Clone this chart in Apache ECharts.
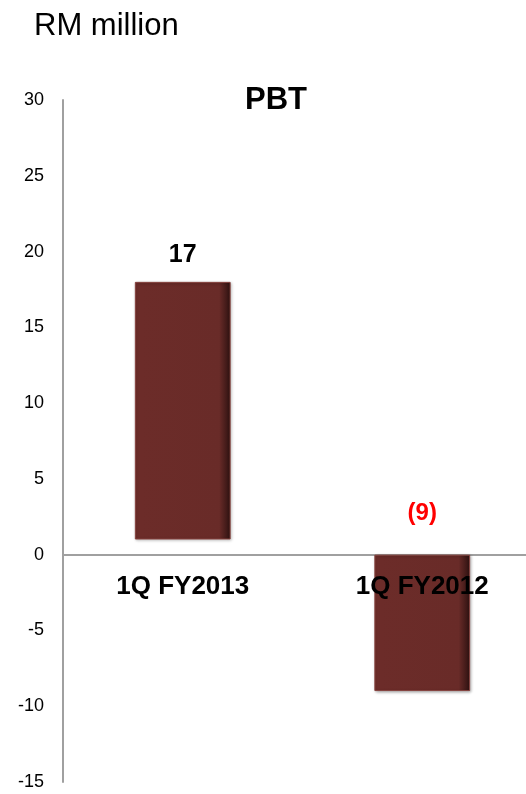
<!DOCTYPE html>
<html>
<head>
<meta charset="utf-8">
<script src="https://cdn.jsdelivr.net/npm/echarts@6/dist/echarts.min.js"></script>
<style>
  html, body { margin: 0; padding: 0; background: #fff; }
  #chart { width: 526px; height: 794px; }
</style>
</head>
<body>
<div id="chart"></div>
<script>
  // data
  var categories = ['1Q FY2013', '1Q FY2012']
  var baseValues = [1, 0]       // bar 1 floats a little above zero
  var pbtValues = [17, -9]
  var pbtLabels = ['17', '(9)']
  var labelColors = ['#000', '#ff0000']

  var myChart = echarts.init(document.getElementById('chart'))

  var barColor = new echarts.graphic.LinearGradient(0, 0, 1, 0, [
    {offset: 0, color: '#74302c'},
    {offset: 0.06, color: '#6c2c29'},
    {offset: 0.88, color: '#692b28'},
    {offset: 1, color: '#2c1110'}
  ])

  var option = {
    animation: false,
    textStyle: { fontFamily: 'Liberation Sans, Arial, sans-serif' },
    title: [
      {
        text: 'RM million',
        left: 29, top: 6,
        textStyle: { fontSize: 31, fontWeight: 'normal', color: '#000' }
      },
      {
        text: 'PBT',
        left: 271, top: 80, textAlign: 'center',
        textStyle: { fontSize: 31, fontWeight: 'bold', color: '#000' }
      }
    ],
    grid: { left: 63, right: -16, top: 100, bottom: 12, outerBoundsMode: 'none' },
    xAxis: {
      type: 'category',
      data: categories,
      axisLine: { onZero: true, lineStyle: { color: '#a0a0a0', width: 2 } },
      axisTick: { show: false },
      axisLabel: { show: false }
    },
    yAxis: {
      type: 'value',
      min: -15, max: 30, interval: 5,
      splitLine: { show: false },
      axisTick: { show: false },
      axisLine: { show: true, lineStyle: { color: '#a0a0a0', width: 2 } },
      axisLabel: { fontSize: 18, color: '#000', margin: 19 }
    },
    series: [
      {
        // invisible base; also carries the category names under the zero line
        type: 'bar',
        stack: 'pbt',
        barWidth: '40%',
        z: 4,
        itemStyle: { color: 'transparent' },
        label: {
          show: true,
          position: 'bottom',
          distance: 19,
          formatter: function (p) { return categories[p.dataIndex] },
          fontSize: 26,
          fontWeight: 'bold',
          color: '#000'
        },
        data: baseValues
      },
      {
        type: 'bar',
        stack: 'pbt',
        barWidth: '40%',
        itemStyle: {
          color: barColor,
          borderColor: '#86433f',
          borderWidth: 1,
          shadowColor: 'rgba(0,0,0,0.3)',
          shadowBlur: 3,
          shadowOffsetX: 1,
          shadowOffsetY: 1
        },
        data: pbtValues.map(function (v, i) {
          return {
            value: v,
            label: {
              show: true,
              position: 'top',
              distance: v < 0 ? 29 : 14,
              formatter: pbtLabels[i],
              fontSize: v < 0 ? 24 : 25,
              fontWeight: 'bold',
              color: labelColors[i]
            }
          }
        })
      }
    ]
  }

  myChart.setOption(option)
</script>
</body>
</html>
